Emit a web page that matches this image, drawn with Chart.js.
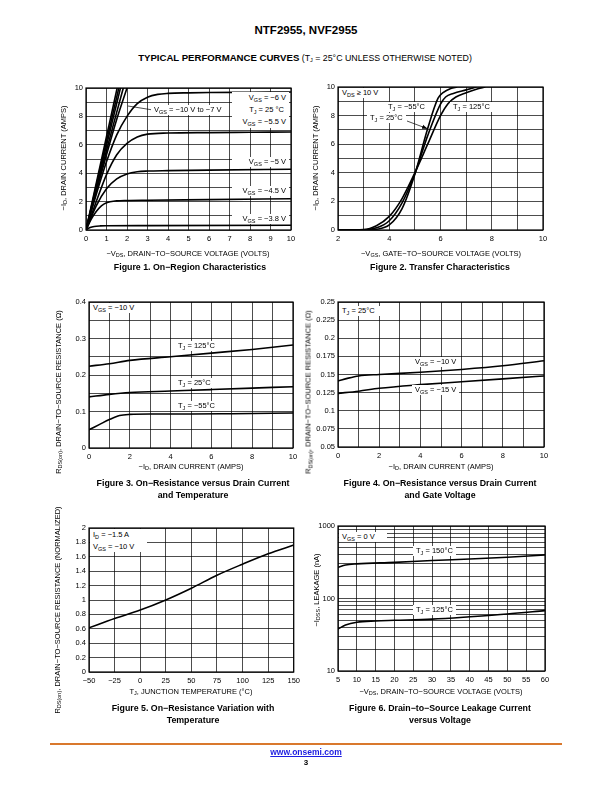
<!DOCTYPE html>
<html>
<head>
<meta charset="utf-8">
<script src="https://cdn.jsdelivr.net/npm/chart.js@4.4.1/dist/chart.umd.min.js"></script>
<style>
  body { margin:0; width:612px; height:792px; position:relative; background:#fff; font-family:"Liberation Sans", Arial, sans-serif; color:#000; overflow:hidden; }
  canvas { position:absolute; }
  .a { position:absolute; font-size:7.5px; line-height:10px; background:#fff; padding:0 3px; white-space:nowrap; }
  .c { position:absolute; transform:translate(-50%,-50%); white-space:nowrap; font-size:7.5px; }
  .y { position:absolute; transform:translate(-50%,-50%) rotate(-90deg); white-space:nowrap; font-size:7.5px; }
  .cap { position:absolute; transform:translate(-50%,-50%); white-space:nowrap; font-size:8.8px; font-weight:bold; text-align:center; line-height:11.5px; }
  sub { font-size:5.5px; vertical-align:-1.5px; line-height:0; }
</style>
</head>
<body>

<div class="c" style="left:306px;top:30px;font-size:11.5px;font-weight:bold;">NTF2955, NVF2955</div>
<div class="c" style="left:305px;top:57px;font-size:8.8px;"><b style="font-size:9.6px">TYPICAL PERFORMANCE CURVES</b> (T<sub>J</sub> = 25°C UNLESS OTHERWISE NOTED)</div>

<canvas id="fig1"></canvas>
<canvas id="fig2"></canvas>
<canvas id="fig3"></canvas>
<canvas id="fig4"></canvas>
<canvas id="fig5"></canvas>
<canvas id="fig6"></canvas>

<svg style="position:absolute;left:0;top:0" width="612" height="792">
  <defs>
    <marker id="ah" markerWidth="6" markerHeight="6" refX="5" refY="3" orient="auto" markerUnits="userSpaceOnUse">
      <path d="M0,0.8 L5.5,3 L0,5.2 z" fill="#000"/>
    </marker>
  </defs>
  <line x1="128" y1="106" x2="153" y2="110" stroke="#000" stroke-width="0.7"/>
  <line x1="407" y1="121" x2="427" y2="128.5" stroke="#000" stroke-width="0.7" marker-end="url(#ah)"/>
</svg>

<!-- figure 1 labels -->
<div class="a" style="left:232px;top:92px;width:51px;height:36px;text-align:right;line-height:12px;">V<sub>GS</sub> = −6 V<br>T<sub>J</sub> = 25 °C&nbsp;<br>V<sub>GS</sub> = −5.5 V</div>
<div class="a" style="left:151px;top:105px;">V<sub>GS</sub> = −10 V to −7 V</div>
<div class="a" style="left:232px;top:157px;width:51px;text-align:right;">V<sub>GS</sub> = −5 V</div>
<div class="a" style="left:232px;top:186px;width:51px;text-align:right;">V<sub>GS</sub> = −4.5 V</div>
<div class="a" style="left:232px;top:214px;width:51px;text-align:right;">V<sub>GS</sub> = −3.8 V</div>
<div class="y" style="left:63px;top:158px;">−I<sub>D</sub>, DRAIN CURRENT (AMPS)</div>
<div class="c" style="left:188px;top:253px;">−V<sub>DS</sub>, DRAIN−TO−SOURCE VOLTAGE (VOLTS)</div>
<div class="cap" style="left:190px;top:268px;">Figure 1. On−Region Characteristics</div>

<!-- figure 2 labels -->
<div class="a" style="left:339px;top:88px;width:40px;">V<sub>DS</sub> ≥ 10 V</div>
<div class="a" style="left:385px;top:102px;">T<sub>J</sub> = −55°C</div>
<div class="a" style="left:450px;top:102px;">T<sub>J</sub> = 125°C</div>
<div class="a" style="left:367px;top:113px;">T<sub>J</sub> = 25°C</div>
<div class="y" style="left:315px;top:158px;">−I<sub>D</sub>, DRAIN CURRENT (AMPS)</div>
<div class="c" style="left:441px;top:253px;">−V<sub>GS</sub>, GATE−TO−SOURCE VOLTAGE (VOLTS)</div>
<div class="cap" style="left:440px;top:268px;">Figure 2. Transfer Characteristics</div>

<!-- figure 3 labels -->
<div class="a" style="left:90px;top:303px;width:48px;">V<sub>GS</sub> = −10 V</div>
<div class="a" style="left:175px;top:341px;">T<sub>J</sub> = 125°C</div>
<div class="a" style="left:175px;top:378px;">T<sub>J</sub> = 25°C</div>
<div class="a" style="left:175px;top:401px;">T<sub>J</sub> = −55°C</div>
<div class="y" style="left:58px;top:392px;">R<sub>DS(on)</sub>, DRAIN−TO−SOURCE RESISTANCE (Ω)</div>
<div class="c" style="left:191px;top:466px;">−I<sub>D</sub>, DRAIN CURRENT (AMPS)</div>
<div class="cap" style="left:193px;top:489px;">Figure 3. On−Resistance versus Drain Current<br>and Temperature</div>

<!-- figure 4 labels -->
<div class="a" style="left:339px;top:306px;width:40px;">T<sub>J</sub> = 25°C</div>
<div class="a" style="left:412px;top:357px;">V<sub>GS</sub> = −10 V</div>
<div class="a" style="left:412px;top:385px;">V<sub>GS</sub> = −15 V</div>
<div class="y" style="left:308px;top:392px;">R<sub>DS(on)</sub>, DRAIN−TO−SOURCE RESISTANCE (Ω)</div>
<div class="c" style="left:441px;top:466px;">−I<sub>D</sub>, DRAIN CURRENT (AMPS)</div>
<div class="cap" style="left:440px;top:489px;">Figure 4. On−Resistance versus Drain Current<br>and Gate Voltage</div>

<!-- figure 5 labels -->
<div class="a" style="left:90px;top:529px;width:51px;height:23px;line-height:11.5px;">I<sub>D</sub> = −1.5 A<br>V<sub>GS</sub> = −10 V</div>
<div class="y" style="left:57px;top:610px;">R<sub>DS(on)</sub>, DRAIN−TO−SOURCE RESISTANCE (NORMALIZED)</div>
<div class="c" style="left:191px;top:691px;">T<sub>J</sub>, JUNCTION TEMPERATURE (°C)</div>
<div class="cap" style="left:193px;top:714px;">Figure 5. On−Resistance Variation with<br>Temperature</div>

<!-- figure 6 labels -->
<div class="a" style="left:339px;top:532px;width:42px;">V<sub>GS</sub> = 0 V</div>
<div class="a" style="left:413px;top:546px;">T<sub>J</sub> = 150°C</div>
<div class="a" style="left:413px;top:605px;">T<sub>J</sub> = 125°C</div>
<div class="y" style="left:316px;top:590px;">−I<sub>DSS</sub>, LEAKAGE (nA)</div>
<div class="c" style="left:441px;top:691px;">−V<sub>DS</sub>, DRAIN−TO−SOURCE VOLTAGE (VOLTS)</div>
<div class="cap" style="left:440px;top:714px;">Figure 6. Drain−to−Source Leakage Current<br>versus Voltage</div>

<div style="position:absolute;left:50px;top:743px;width:512px;height:1.5px;background:#d9782d;"></div>
<div class="c" style="left:306px;top:752px;font-size:8.5px;font-weight:bold;color:#1d1de0;text-decoration:underline;">www.onsemi.com</div>
<div class="c" style="left:306px;top:762px;font-size:8px;font-weight:bold;">3</div>

<script>
// ---- Figure 1: -ID vs -VDS, one curve per VGS ----
const f1Vgs10X = [0, 1.52];                 const f1Vgs10Y = [0, 10];
const f1Vgs9X  = [0, 1.60];                 const f1Vgs9Y  = [0, 10];
const f1Vgs8X  = [0, 1.68];                 const f1Vgs8Y  = [0, 10];
const f1Vgs75X = [0, 0.5, 1, 1.5, 1.82];    const f1Vgs75Y = [0, 2.85, 5.6, 8.3, 10];
const f1Vgs7X  = [0, 0.5, 1, 1.5, 2.0];     const f1Vgs7Y  = [0, 2.7, 5.3, 7.8, 10];
const f1Vgs6X  = [0, 0.5, 1, 1.5, 2, 2.5, 3, 3.5, 4, 5, 6, 8, 10];
const f1Vgs6Y  = [0, 2.5, 4.8, 6.7, 8.0, 8.9, 9.35, 9.55, 9.62, 9.66, 9.68, 9.7, 9.72];
const f1Vgs55X = [0, 0.5, 1, 1.5, 2, 2.5, 3, 4, 6, 8, 10];
const f1Vgs55Y = [0, 2.0, 3.9, 5.3, 6.1, 6.55, 6.75, 6.83, 6.86, 6.88, 6.9];
const f1Vgs5X  = [0, 0.5, 1, 1.5, 2, 2.5, 3, 4, 6, 10];
const f1Vgs5Y  = [0, 1.7, 2.9, 3.6, 3.95, 4.1, 4.15, 4.18, 4.22, 4.28];
const f1Vgs45X = [0, 0.25, 0.5, 0.75, 1, 1.5, 2, 3, 6, 10];
const f1Vgs45Y = [0, 0.75, 1.3, 1.7, 1.92, 2.05, 2.08, 2.1, 2.14, 2.2];
const f1Vgs38X = [0, 0.2, 0.4, 0.7, 1, 3, 10];
const f1Vgs38Y = [0, 0.17, 0.25, 0.29, 0.3, 0.31, 0.33];

// ---- Figure 2: transfer, -ID vs -VGS per TJ ----
const f2T125X = [2, 3, 3.5, 4, 4.5, 5, 5.5, 6, 6.3, 6.6, 7, 7.4, 7.75];
const f2T125Y = [0, 0.03, 0.3, 0.95, 2.2, 4.0, 6.0, 8.0, 8.85, 9.3, 9.6, 9.85, 10];
const f2T25X  = [2, 3, 3.5, 4, 4.5, 5, 5.5, 6, 6.2, 6.5, 7, 7.4];
const f2T25Y  = [0, 0.01, 0.15, 0.65, 1.9, 3.95, 6.6, 8.8, 9.3, 9.55, 9.8, 10];
const f2Tm55X = [2, 3, 3.5, 4, 4.5, 5, 5.5, 5.9, 6.1, 6.4, 6.65];
const f2Tm55Y = [0, 0, 0.05, 0.35, 1.5, 3.9, 7.1, 9.2, 9.6, 9.9, 10];

// ---- Figure 3: RDS(on) vs -ID per TJ (VGS = -10 V) ----
const f3T125X = [0, 1, 2, 4, 6, 8, 10];
const f3T125Y = [0.224, 0.231, 0.24, 0.25, 0.26, 0.27, 0.282];
const f3T25X  = [0, 1, 2, 4, 6, 8, 10];
const f3T25Y  = [0.14, 0.147, 0.152, 0.156, 0.16, 0.164, 0.168];
const f3Tm55X = [0, 0.5, 1, 1.5, 2, 3, 5, 7, 10];
const f3Tm55Y = [0.05, 0.064, 0.078, 0.089, 0.092, 0.093, 0.093, 0.094, 0.096];

// ---- Figure 4: RDS(on) vs -ID per VGS (TJ = 25 C) ----
const f4Vgs10X = [0, 0.5, 1, 2, 4, 6, 8, 10];
const f4Vgs10Y = [0.141, 0.145, 0.148, 0.15, 0.153, 0.157, 0.162, 0.169];
const f4Vgs15X = [0, 1, 2, 4, 6, 8, 10];
const f4Vgs15Y = [0.124, 0.127, 0.131, 0.136, 0.14, 0.144, 0.148];

// ---- Figure 5: normalized RDS(on) vs TJ ----
const f5TempX = [-50, -25, 0, 25, 50, 75, 100, 125, 150];
const f5RdsY  = [0.614, 0.744, 0.86, 1.0, 1.163, 1.344, 1.498, 1.642, 1.763];

// ---- Figure 6: -IDSS leakage vs -VDS per TJ ----
const f6T150X = [5, 7, 10, 20, 30, 40, 50, 60];
const f6T150Y = [270, 290, 300, 315, 335, 350, 370, 400];
const f6T125X = [5, 7, 10, 15, 20, 30, 40, 50, 60];
const f6T125Y = [38, 43, 47, 49, 50, 52, 56, 61, 68];

// plot rectangles on the page
const P1 = {l:86, t:88, r:291, b:230};
const P2 = {l:338, t:87, r:543, b:230};
const P3 = {l:89, t:302, r:293, b:448};
const P4 = {l:338, t:302, r:544, b:447};
const P5 = {l:89, t:528, r:294, b:672};
const P6 = {l:338, t:526, r:545, b:671};

const YW = 34, XH = 16, PT = 8, PR = 10;
const FONT = {family: '"Liberation Sans", Arial, sans-serif', size: 7.5};

function pts(xs, ys) { return xs.map((x, i) => ({x: x, y: ys[i]})); }
function curve(xs, ys) {
  return { data: pts(xs, ys), borderColor: '#000', borderWidth: 1.6, pointRadius: 0,
           fill: false, cubicInterpolationMode: 'monotone' };
}
function near(v, step) { return Math.abs(v / step - Math.round(v / step)) < 1e-6; }
function num(v) { return String(v).replace('-', '−'); }

const frame = {
  id: 'frame',
  afterDatasetsDraw(c) {
    const a = c.chartArea, ctx = c.ctx;
    ctx.save();
    ctx.strokeStyle = '#000';
    ctx.lineWidth = 1.2;
    ctx.strokeRect(a.left, a.top, a.right - a.left, a.bottom - a.top);
    ctx.restore();
  }
};

function axis(o) {
  return Object.assign({
    type: 'linear',
    grid: {color: '#000', lineWidth: 0.7, drawTicks: false},
    border: {display: false},
    ticks: {color: '#000', font: FONT, autoSkip: false, maxRotation: 0, padding: 3}
  }, o);
}

function make(id, p, datasets, x, y) {
  const cv = document.getElementById(id);
  const w = p.r - p.l + YW + PR, h = p.b - p.t + PT + XH;
  cv.width = w; cv.height = h;
  cv.style.left = (p.l - YW) + 'px';
  cv.style.top = (p.t - PT) + 'px';
  cv.style.width = w + 'px';
  cv.style.height = h + 'px';
  x.afterFit = s => { s.height = XH; };
  y.afterFit = s => { s.width = YW; };
  x.ticks.padding = 4;
  new Chart(cv, {
    type: 'line',
    data: {datasets: datasets},
    options: {
      responsive: false,
      animation: false,
      layout: {padding: {left: 0, top: PT, right: PR, bottom: 0}},
      plugins: {legend: {display: false}, tooltip: {enabled: false}},
      scales: {x: x, y: y}
    },
    plugins: [frame]
  });
}

const ax = (min, max, step, lab) => {
  const a = axis({min: min, max: max});
  a.ticks.stepSize = step;
  a.ticks.callback = lab || (v => num(v));
  return a;
};
const even = v => near(v, 2) ? String(v) : '';

make('fig1', P1, [
  curve(f1Vgs10X, f1Vgs10Y), curve(f1Vgs9X, f1Vgs9Y), curve(f1Vgs8X, f1Vgs8Y),
  curve(f1Vgs75X, f1Vgs75Y), curve(f1Vgs7X, f1Vgs7Y), curve(f1Vgs6X, f1Vgs6Y),
  curve(f1Vgs55X, f1Vgs55Y), curve(f1Vgs5X, f1Vgs5Y), curve(f1Vgs45X, f1Vgs45Y),
  curve(f1Vgs38X, f1Vgs38Y)
], ax(0, 10, 1), ax(0, 10, 1, even));

make('fig2', P2, [
  curve(f2T125X, f2T125Y), curve(f2T25X, f2T25Y), curve(f2Tm55X, f2Tm55Y)
], ax(2, 10, 1, even), ax(0, 10, 1, even));

make('fig3', P3, [
  curve(f3T125X, f3T125Y), curve(f3T25X, f3T25Y), curve(f3Tm55X, f3Tm55Y)
], ax(0, 10, 1, even),
   ax(0, 0.4, 0.05, v => near(v, 0.1) ? String(+v.toFixed(1)) : ''));

make('fig4', P4, [
  curve(f4Vgs10X, f4Vgs10Y), curve(f4Vgs15X, f4Vgs15Y)
], ax(0, 10, 1, even),
   ax(0.05, 0.25, 0.025, v => String(+v.toFixed(3))));

make('fig5', P5, [
  curve(f5TempX, f5RdsY)
], ax(-50, 150, 25), ax(0, 2, 0.2, v => String(+v.toFixed(1))));

const logY = axis({type: 'logarithmic', min: 10, max: 1000});
logY.ticks.callback = v => (v === 10 || v === 100 || v === 1000) ? String(v) : '';
make('fig6', P6, [
  curve(f6T150X, f6T150Y), curve(f6T125X, f6T125Y)
], ax(5, 60, 5), logY);
</script>
</body>
</html>
